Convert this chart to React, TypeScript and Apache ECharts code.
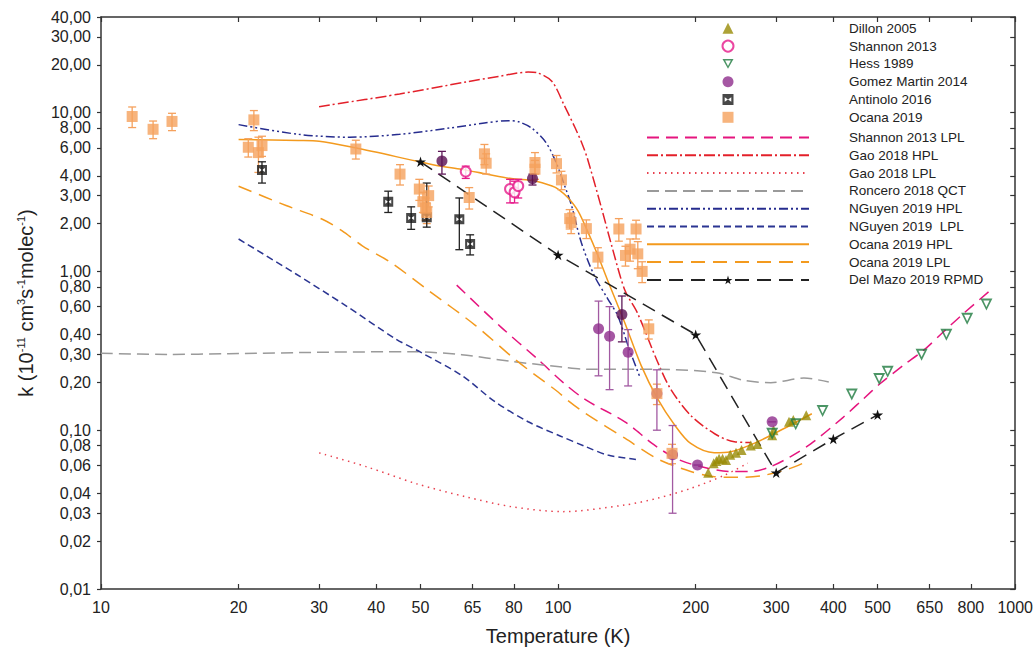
import React, { useEffect, useRef } from "react";
import * as echarts from "echarts";

// ---------- tick labels ----------
const xTicks = [10, 20, 30, 40, 50, 65, 80, 100, 200, 300, 400, 500, 650, 800, 1000];
const yTicks = [0.01, 0.02, 0.03, 0.04, 0.06, 0.08, 0.1, 0.2, 0.3, 0.4, 0.6, 0.8, 1, 2, 3, 4, 6, 8, 10, 20, 30, 40];

// ---------- experimental data ----------
const dillonT = [213, 219, 222, 225, 229, 233, 238, 245, 252, 264, 273, 294, 296, 320, 327, 349];
const dillonK = [0.054, 0.062, 0.064, 0.066, 0.066, 0.065, 0.07, 0.072, 0.075, 0.08, 0.082, 0.093, 0.1, 0.113, 0.116, 0.124];

const shannonT = [62.8, 78.5, 80.3, 81.8];
const shannonK = [4.25, 3.3, 3.15, 3.45];
const shannonLo = [3.85, 2.7, 2.7, 2.9];
const shannonHi = [4.6, 3.8, 3.7, 3.8];

const hessT = [294, 331, 379, 439, 504, 526, 624, 707, 785, 865];
const hessK = [0.095, 0.109, 0.132, 0.168, 0.21, 0.233, 0.299, 0.399, 0.503, 0.618];

const gomezT = [122.6, 129.6, 142.3, 164.5, 178, 201.8, 294];
const gomezK = [0.435, 0.391, 0.31, 0.17, 0.07, 0.0603, 0.113];
const gomezLo = [0.22, 0.18, 0.19, 0.1, 0.03, 0.0603, 0.113];
const gomezHi = [0.65, 0.6, 0.43, 0.24, 0.107, 0.0603, 0.113];
const gomezDarkT = [55.7, 87.9, 137.9];
const gomezDarkK = [4.95, 3.84, 0.535];
const gomezDarkLo = [4.1, 3.5, 0.36];
const gomezDarkHi = [5.7, 4.1, 0.7];

const antinoloT = [22.5, 42.5, 47.7, 51.6, 60.8, 64.2];
const antinoloK = [4.35, 2.75, 2.17, 2.19, 2.13, 1.49];
const antinoloLo = [3.6, 2.35, 1.84, 1.9, 1.37, 1.27];
const antinoloHi = [4.9, 3.2, 2.55, 3.6, 2.9, 1.7];

const ocanaT = [11.7, 13.0, 14.3, 21.0, 21.6, 22.1, 22.5, 36.1, 45.1, 49.7, 50.6, 51.3, 51.6, 52.1, 63.9, 69.0, 69.6, 89.0, 89.0, 99.2, 101.7, 106.0, 106.8, 115.3, 122.2, 135.8, 140.4, 143.7, 148.1, 149.4, 152.7, 157.9, 164.5, 177.5];
const ocanaK = [9.45, 7.85, 8.8, 6.05, 9.0, 5.6, 6.2, 5.9, 4.1, 3.3, 2.75, 2.5, 2.35, 3.0, 2.92, 5.5, 4.8, 4.85, 4.4, 4.77, 3.77, 2.15, 2.03, 1.86, 1.23, 1.85, 1.26, 1.38, 1.85, 1.29, 1.0, 0.435, 0.17, 0.0715];
const ocanaErr = [1.4, 1.0, 1.1, 0.8, 1.3, 1.4, 0.9, 0.8, 0.6, 0.5, 0.4, 0.4, 0.35, 0.45, 0.45, 0.8, 0.7, 0.75, 0.6, 0.6, 0.5, 0.3, 0.3, 0.25, 0.18, 0.3, 0.18, 0.22, 0.25, 0.25, 0.15, 0.06, 0.025, 0.01];

// ---------- theoretical curves ----------
const shannonLplT = [60, 75, 90, 102.5, 115, 140, 162, 182, 205, 238, 264, 292, 322, 357, 421, 466, 506, 569, 630, 696, 769, 887];
const shannonLplK = [0.82, 0.446, 0.282, 0.2, 0.155, 0.113, 0.081, 0.066, 0.059, 0.055, 0.055, 0.059, 0.068, 0.082, 0.121, 0.158, 0.196, 0.256, 0.318, 0.415, 0.54, 0.77];

const gaoHplT = [30, 45, 63, 74, 86, 90, 97, 103, 109, 113, 116, 124, 131, 140, 149, 165, 176, 195, 220, 243, 264];
const gaoHplK = [10.9, 13.1, 15.6, 16.9, 18.0, 17.8, 15.7, 11.2, 8.0, 6.3, 5.1, 2.6, 1.45, 0.76, 0.55, 0.27, 0.183, 0.124, 0.095, 0.0845, 0.0837];

const gaoLplT = [30, 38, 49, 63, 79, 102, 140, 165, 195, 231, 260];
const gaoLplK = [0.072, 0.059, 0.046, 0.038, 0.033, 0.0307, 0.0338, 0.0373, 0.043, 0.052, 0.062];

const ronceroT = [10, 14, 19, 31.5, 48, 61.5, 79, 102, 116, 165, 222, 255, 292, 345, 391];
const ronceroK = [0.305, 0.3, 0.303, 0.31, 0.312, 0.299, 0.271, 0.25, 0.242, 0.242, 0.23, 0.206, 0.199, 0.213, 0.201];

const nguyenHplT = [20, 27, 35, 45, 58, 69, 78, 82, 87.5, 94, 99, 103.4, 107, 112.4, 120, 128.5, 135, 143, 151];
const nguyenHplK = [8.4, 7.3, 7.0, 7.3, 8.0, 8.6, 8.9, 8.75, 8.0, 6.5, 4.85, 3.45, 2.6, 1.52, 0.94, 0.67, 0.527, 0.326, 0.216];

const nguyenLplT = [20, 26.7, 34.3, 44.1, 50, 61.5, 72.8, 86, 101, 115, 128.5, 148];
const nguyenLplK = [1.6, 0.963, 0.609, 0.376, 0.31, 0.2215, 0.151, 0.113, 0.092, 0.0787, 0.0697, 0.0655];

const ocanaHplT = [20, 27, 30, 36, 49, 55, 61.5, 70, 79, 89, 97, 100, 105, 110.6, 116.3, 122.2, 128.5, 139.7, 151.9, 165, 180, 195, 219.5, 238.5, 273, 322, 359];
const ocanaHplK = [6.78, 6.67, 6.6, 6.0, 4.95, 4.61, 4.39, 4.09, 3.84, 3.71, 3.45, 3.3, 2.92, 2.4, 1.76, 1.26, 0.87, 0.48, 0.256, 0.158, 0.1075, 0.0825, 0.0721, 0.0731, 0.0845, 0.1075, 0.127];

const ocanaLplT = [20, 25.4, 30.5, 33.7, 37.3, 43, 52, 66, 81, 100, 105, 115, 140, 165, 195, 220, 251, 282, 322, 348];
const ocanaLplK = [3.44, 2.6, 2.13, 1.8, 1.45, 1.14, 0.76, 0.456, 0.275, 0.174, 0.154, 0.127, 0.089, 0.066, 0.055, 0.051, 0.0505, 0.052, 0.0575, 0.063];

const delMazoT = [50, 100, 200, 300, 400, 500];
const delMazoK = [4.9, 1.27, 0.4, 0.054, 0.088, 0.125];

const markerNames = ["Dillon 2005", "Shannon 2013", "Hess 1989", "Gomez Martin 2014", "Antinolo 2016", "Ocana 2019"];
const curveNames = [
  "Shannon 2013 LPL", "Gao 2018 HPL", "Gao 2018 LPL", "Roncero 2018 QCT", "NGuyen 2019 HPL",
  "NGuyen 2019  LPL", "Ocana 2019 HPL", "Ocana 2019 LPL", "Del Mazo 2019 RPMD",
];

// ---------- helpers ----------
const FONT = "'Liberation Sans', Arial, Helvetica, sans-serif";
const lg = (v: number) => Math.log10(v);
const pairs = (t: number[], k: number[]) => t.map((x, i) => [lg(x), lg(k[i])]);
const bars = (t: number[], lo: number[], hi: number[]) => t.map((x, i) => [lg(x), lg(lo[i]), lg(hi[i])]);

const STAR = "path://M50,0L61,35L98,35L68,57L79,91L50,70L21,91L32,57L2,35L39,35Z";
const BOWTIE = "path://M0,0H10V10H0Z M2,3L2,7L5,5Z M8,3L5,5L8,7Z";
const DOWN_TRI = "path://M0,0L10,0L5,9Z M2.4,1.5L5,6.3L7.6,1.5Z";

function errorBars(id: string, data: number[][], color: string) {
  return {
    id, name: id, type: "custom", data, z: 3, silent: true,
    encode: { x: 0, y: [1, 2] },
    renderItem: (_p: any, api: any) => {
      const x = api.value(0);
      const a = api.coord([x, api.value(1)]);
      const b = api.coord([x, api.value(2)]);
      const w = 4;
      const style = { stroke: color, lineWidth: 1.3 };
      return {
        type: "group",
        children: [
          { type: "line", shape: { x1: a[0], y1: a[1], x2: b[0], y2: b[1] }, style },
          { type: "line", shape: { x1: a[0] - w, y1: a[1], x2: a[0] + w, y2: a[1] }, style },
          { type: "line", shape: { x1: b[0] - w, y1: b[1], x2: b[0] + w, y2: b[1] }, style },
        ],
      };
    },
  };
}

function curve(name: string, t: number[], k: number[], color: string, dash: any, extra: any = {}) {
  return {
    name, type: "line", data: pairs(t, k), symbol: "none", smooth: 0.3, z: 2,
    lineStyle: { color, width: 1.5, type: dash },
    itemStyle: { color },
    ...extra,
  };
}

export default function App() {
  const ref = useRef<HTMLDivElement>(null);

  useEffect(() => {
    document.body.style.margin = "0";
    const chart = echarts.init(ref.current!, null, { renderer: "svg" });
    const axisColor = "#333";
    const xT = xTicks.map(lg);
    const yT = yTicks.map(lg);
    const legendText = { fontSize: 13.5, color: "#222", lineHeight: 14, fontFamily: FONT };

    const option: any = {
      animation: false,
      backgroundColor: "#fff",
      textStyle: { fontFamily: FONT },
      grid: { left: 101, right: 17, top: 17, bottom: 60 },
      legend: [
        {
          orient: "vertical", left: 721.5, top: 21.3, padding: 0,
          itemWidth: 11, itemHeight: 11, itemGap: 3.8,
          selectedMode: false,
          data: markerNames,
          textStyle: { ...legendText, padding: [0, 0, 0, 110.5] },
        },
        {
          orient: "vertical", left: 646, top: 130.5, padding: 0,
          itemWidth: 162, itemHeight: 11, itemGap: 3.8,
          selectedMode: false,
          data: curveNames.map((n) =>
            n === "Del Mazo 2019 RPMD" ? { name: n } : { name: n, itemStyle: { opacity: 0 } }
          ),
          textStyle: { ...legendText, padding: [0, 0, 0, 35] },
        },
      ],
      xAxis: [
        {
          type: "value", min: 1, max: 3, position: "bottom",
          axisLine: { show: true, onZero: false, lineStyle: { color: axisColor, width: 1.5 } },
          axisTick: { show: true, inside: true, length: 5, customValues: xT, lineStyle: { color: axisColor, width: 1.2 } },
          axisLabel: {
            customValues: xT, margin: 10, fontSize: 16, color: "#222", fontFamily: FONT,
            formatter: (v: number) => String(Math.round(Math.pow(10, v))),
          },
          splitLine: { show: false },
          name: "Temperature (K)", nameLocation: "middle", nameGap: 37,
          nameTextStyle: { fontSize: 20, color: "#222", fontFamily: FONT },
        },
        {
          type: "value", min: 1, max: 3, position: "top",
          axisLine: { show: true, onZero: false, lineStyle: { color: axisColor, width: 1.5 } },
          axisTick: { show: true, inside: true, length: 5, customValues: xT, lineStyle: { color: axisColor, width: 1.2 } },
          axisLabel: { show: false },
          splitLine: { show: false },
        },
      ],
      yAxis: [
        {
          type: "value", min: -2, max: lg(40), position: "left",
          axisLine: { show: true, onZero: false, lineStyle: { color: axisColor, width: 1.5 } },
          axisTick: { show: true, inside: false, length: 4, customValues: yT, lineStyle: { color: axisColor, width: 1.2 } },
          axisLabel: {
            customValues: yT, margin: 10, fontSize: 16, color: "#222", fontFamily: FONT,
            formatter: (v: number) => Math.pow(10, v).toFixed(2).replace(".", ","),
          },
          splitLine: { show: false },
          name: "{n|k (10}{s|-11}{n| cm}{s|3}{n|s}{s|-1}{n|molec}{s|-1}{n|)}",
          nameLocation: "middle", nameGap: 64,
          nameTextStyle: {
            color: "#222", fontFamily: FONT, fontSize: 20,
            rich: {
              n: { fontSize: 20, color: "#222", fontFamily: FONT, lineHeight: 22 },
              s: { fontSize: 11, color: "#222", fontFamily: FONT, verticalAlign: "top", lineHeight: 22 },
            },
          },
        },
        {
          type: "value", min: -2, max: lg(40), position: "right",
          axisLine: { show: true, onZero: false, lineStyle: { color: axisColor, width: 1.5 } },
          axisTick: { show: true, inside: true, length: 5, customValues: yT, lineStyle: { color: axisColor, width: 1.2 } },
          axisLabel: { show: false },
          splitLine: { show: false },
        },
      ],
      series: [
        // curves
        curve("Shannon 2013 LPL", shannonLplT, shannonLplK, "#E5157E", [12, 7]),
        curve("Gao 2018 HPL", gaoHplT, gaoHplK, "#E3202A", [11, 3, 2, 3]),
        curve("Gao 2018 LPL", gaoLplT, gaoLplK, "#E8414F", [1.5, 4.5]),
        curve("Roncero 2018 QCT", ronceroT, ronceroK, "#9A9A9A", [12, 6]),
        curve("NGuyen 2019 HPL", nguyenHplT, nguyenHplK, "#262C8E", [9, 3, 2, 3, 2, 3]),
        curve("NGuyen 2019  LPL", nguyenLplT, nguyenLplK, "#2B3592", [7, 4]),
        curve("Ocana 2019 HPL", ocanaHplT, ocanaHplK, "#F39A1E", "solid"),
        curve("Ocana 2019 LPL", ocanaLplT, ocanaLplK, "#F39A1E", [14, 8]),
        {
          name: "Del Mazo 2019 RPMD", type: "line", data: pairs(delMazoT, delMazoK), z: 2,
          symbol: STAR, symbolSize: 11, symbolKeepAspect: true, showSymbol: true,
          lineStyle: { color: "#222", width: 1.5, type: [14, 8] },
          itemStyle: { color: "#111" },
        },
        // error bars
        errorBars("ocanaErr", ocanaT.map((t, i) => [lg(t), lg(ocanaK[i] - ocanaErr[i]), lg(ocanaK[i] + ocanaErr[i])]), "#F5A15D"),
        errorBars("antinoloErr", bars(antinoloT, antinoloLo, antinoloHi), "#222"),
        errorBars("gomezErr", bars(gomezT, gomezLo, gomezHi), "#A25AA2"),
        errorBars("gomezDarkErr", bars(gomezDarkT, gomezDarkLo, gomezDarkHi), "#5E1858"),
        errorBars("shannonErr", bars(shannonT, shannonLo, shannonHi), "#E6198A"),
        // markers
        {
          name: "Dillon 2005", type: "scatter", data: pairs(dillonT, dillonK), z: 4,
          symbol: "triangle", symbolSize: 10, itemStyle: { color: "#998B05" },
        },
        {
          name: "Shannon 2013", type: "scatter", data: pairs(shannonT, shannonK), z: 4,
          symbol: "emptyCircle", symbolSize: 10, itemStyle: { color: "#E6198A", borderWidth: 1.5 },
        },
        {
          name: "Hess 1989", type: "scatter", data: pairs(hessT, hessK), z: 4,
          symbol: DOWN_TRI, symbolSize: 12, itemStyle: { color: "#1E7B3E" },
        },
        {
          name: "Gomez Martin 2014", type: "scatter", data: pairs(gomezT, gomezK), z: 4,
          symbol: "circle", symbolSize: 11, itemStyle: { color: "#8E2D8C" },
        },
        {
          name: "Gomez Martin 2014", type: "scatter", data: pairs(gomezDarkT, gomezDarkK), z: 4,
          symbol: "circle", symbolSize: 11, itemStyle: { color: "#5A1052" },
        },
        {
          name: "Antinolo 2016", type: "scatter", data: pairs(antinoloT, antinoloK), z: 4,
          symbol: BOWTIE, symbolKeepAspect: true, symbolSize: 10, itemStyle: { color: "#1A1A1A" },
        },
        {
          name: "Ocana 2019", type: "scatter", data: pairs(ocanaT, ocanaK), z: 4,
          symbol: "rect", symbolSize: 11, itemStyle: { color: "#F5A15D" },
        },
      ],
    };

    chart.setOption(option);
    return () => chart.dispose();
  }, []);

  return <div ref={ref} style={{ width: 1036, height: 651 }} />;
}
